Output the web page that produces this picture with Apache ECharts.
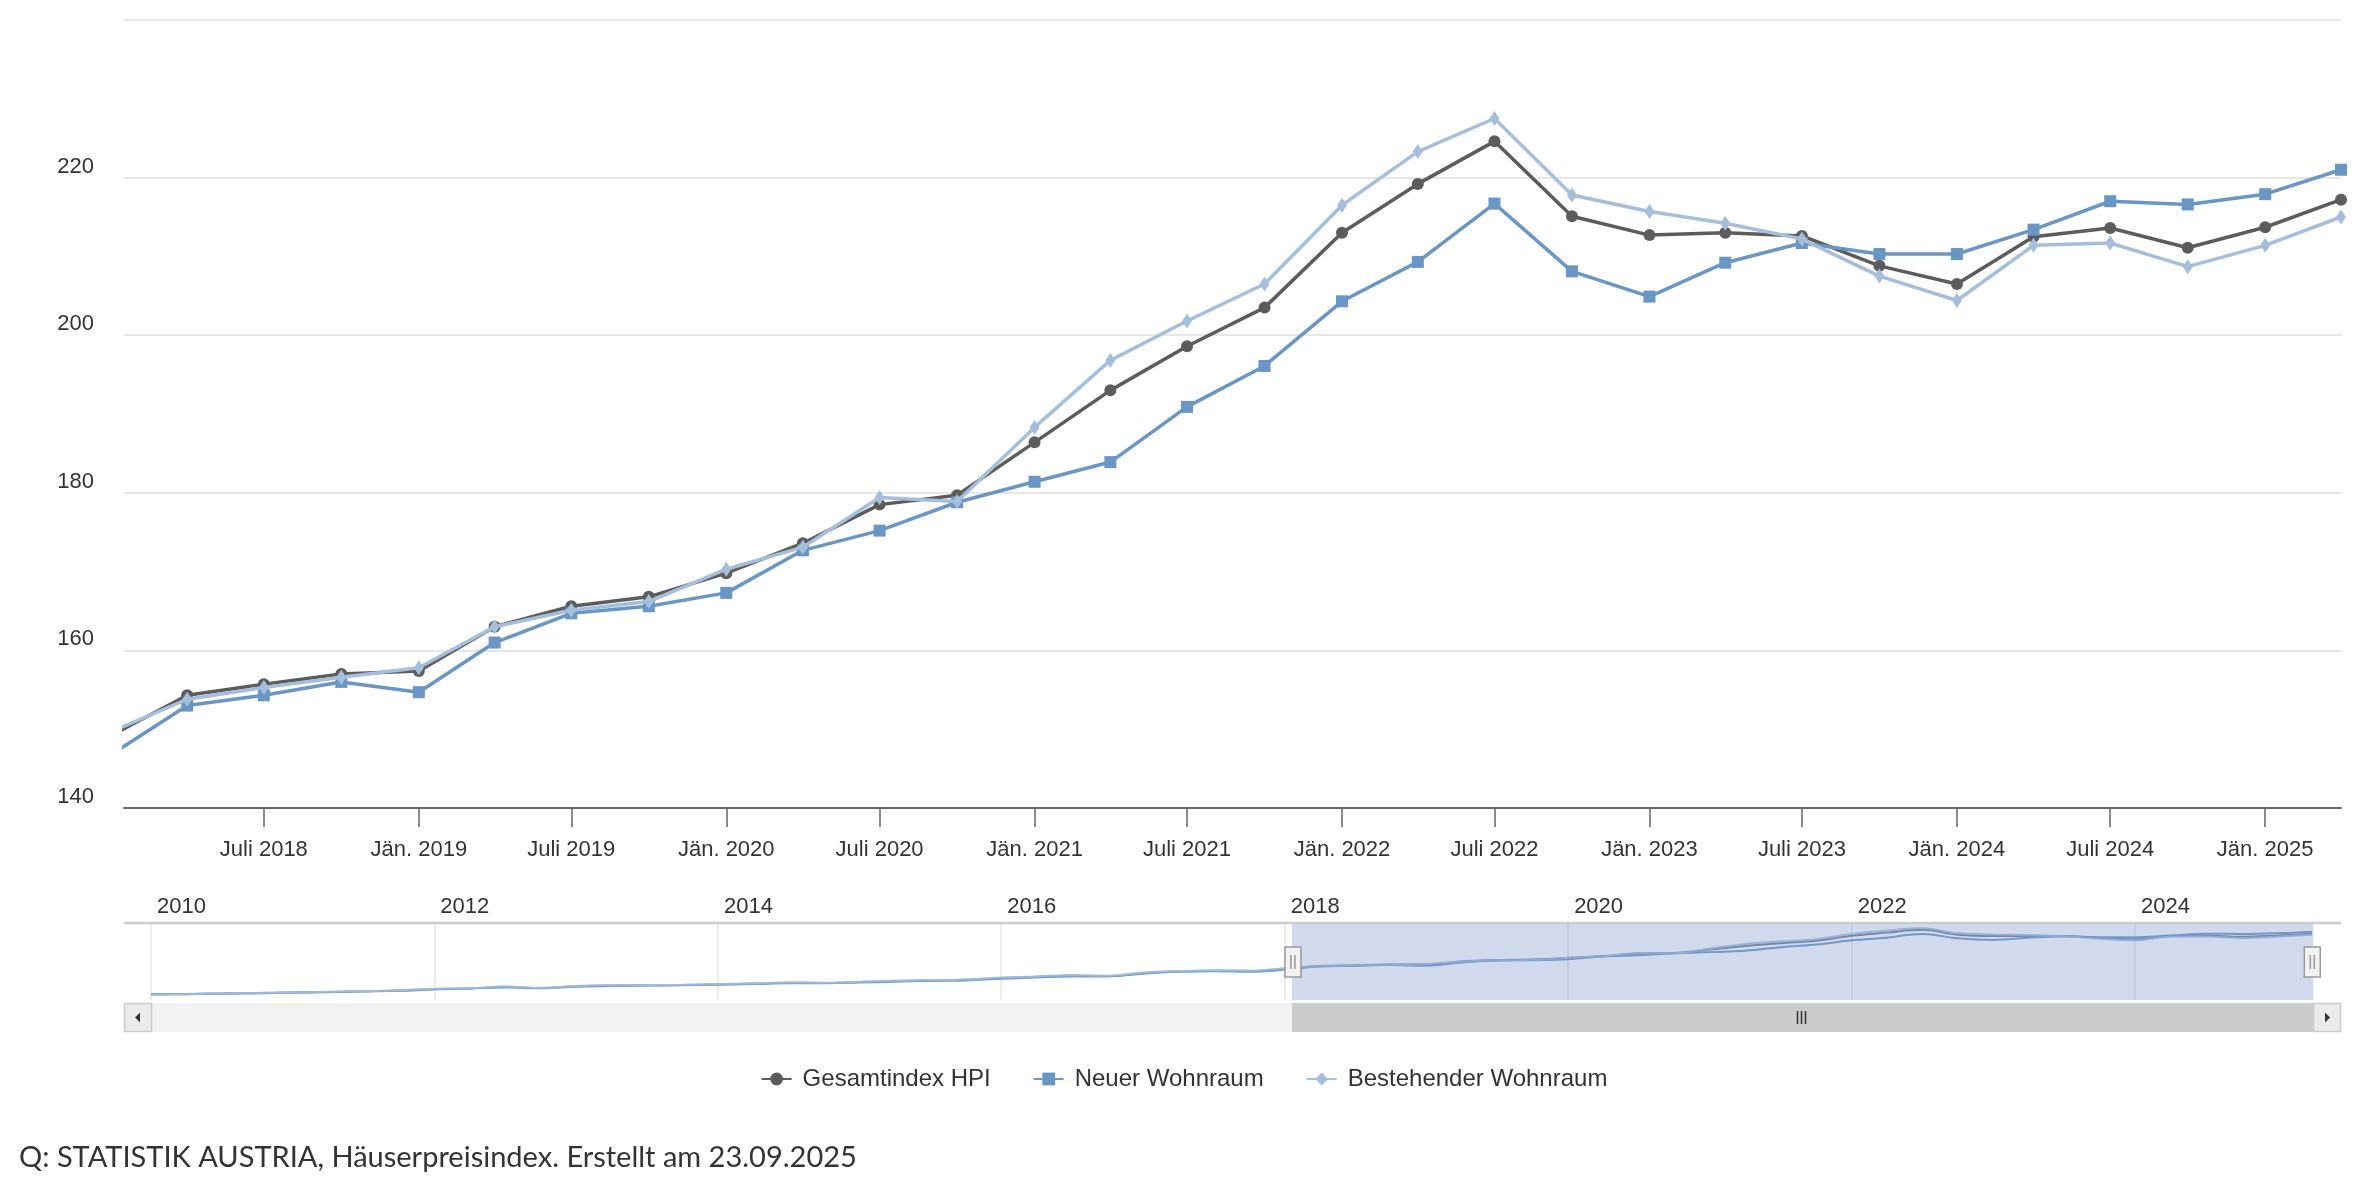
<!DOCTYPE html>
<html>
<head>
<meta charset="utf-8">
<script src="https://cdn.jsdelivr.net/npm/echarts@6/dist/echarts.min.js"></script>
<style>
html,body{margin:0;padding:0;background:#fff;}
#chart{width:2368px;height:1186px;}
</style>
</head>
<body>
<div id="chart"></div>
<script>
// ---- data (quarterly, 2010 Q1 .. 2025 Q2) ----
const firstYear = 2010;
const quarterCount = 62;
const quarters = [];
for (let i = 0; i < quarterCount; i++) {
  quarters.push(Date.UTC(firstYear + Math.floor(i / 4), (i % 4) * 3, 1));
}
const seriesNames = ['Gesamtindex HPI', 'Neuer Wohnraum', 'Bestehender Wohnraum'];
const gesamt = [
  98.6, 99.4, 100.6, 101.4, 102.5, 103.6, 105.0, 106.5,
  109.5, 110.6, 113.6, 111.4, 114.8, 116.3, 116.8, 117.2,
  118.6, 119.9, 121.7, 121.3, 123.2, 124.8, 126.4, 127.3,
  131.0, 133.4, 135.6, 134.9, 140.8, 143.9, 145.2, 144.6,
  149.2, 154.3, 155.7, 157.0, 157.4, 163.0, 165.6, 166.8,
  169.8, 173.6, 178.5, 179.7, 186.4, 193.0, 198.6, 203.5,
  213.0, 219.2, 224.6, 215.1, 212.7, 213.0, 212.6, 208.8,
  206.5, 212.5, 213.6, 211.1, 213.7, 217.2
];
const neuer = [
  99.0, 99.8, 100.3, 100.9, 102.0, 103.2, 104.6, 105.9,
  108.4, 110.2, 112.4, 110.8, 113.6, 115.4, 116.0, 116.5,
  117.8, 119.0, 120.6, 120.6, 122.0, 123.6, 125.0, 126.0,
  129.5, 131.8, 134.0, 133.9, 139.2, 142.8, 144.0, 143.2,
  146.8, 153.0, 154.3, 156.0, 154.7, 161.0, 164.7, 165.6,
  167.3, 172.7, 175.2, 178.8, 181.4, 183.9, 190.9, 196.1,
  204.3, 209.3, 216.7, 208.1, 204.9, 209.2, 211.7, 210.3,
  210.3, 213.4, 217.0, 216.6, 217.9, 221.0
];
const bestehend = [
  98.4, 99.3, 100.8, 101.6, 102.8, 103.9, 105.3, 106.9,
  110.0, 110.9, 114.1, 111.8, 115.3, 116.7, 117.2, 117.6,
  119.0, 120.3, 122.2, 121.7, 123.7, 125.3, 126.9, 127.8,
  131.6, 134.0, 136.2, 135.4, 141.5, 144.4, 145.8, 145.3,
  149.7, 153.8, 155.3, 156.6, 157.8, 163.0, 165.1, 166.2,
  170.3, 173.1, 179.4, 178.9, 188.3, 196.8, 201.8, 206.5,
  216.5, 223.3, 227.5, 217.8, 215.7, 214.2, 212.2, 207.5,
  204.4, 211.4, 211.7, 208.7, 211.4, 215.0
];
// main x-axis tick labels (half-yearly)
const mainTicks = [
  Date.UTC(2018,6,1), Date.UTC(2019,0,1), Date.UTC(2019,6,1), Date.UTC(2020,0,1),
  Date.UTC(2020,6,1), Date.UTC(2021,0,1), Date.UTC(2021,6,1), Date.UTC(2022,0,1),
  Date.UTC(2022,6,1), Date.UTC(2023,0,1), Date.UTC(2023,6,1), Date.UTC(2024,0,1),
  Date.UTC(2024,6,1), Date.UTC(2025,0,1)
];
const navTicks = [2010, 2012, 2014, 2016, 2018, 2020, 2022, 2024].map(y => Date.UTC(y, 0, 1));
const viewStart = Date.UTC(2018, 0, 16);
const viewEnd = Date.UTC(2025, 3, 1);
const colors = ['#5c5c5c', '#6996c4', '#a5bedc'];
const FONT = '"Liberation Sans", Arial, Helvetica, sans-serif';

function pairs(vals) { return vals.map((v, i) => [quarters[i], v]); }
function mainLabel(v) {
  const d = new Date(v);
  const m = d.getUTCMonth();
  if (m === 0) return 'Jän. ' + d.getUTCFullYear();
  if (m === 6) return 'Juli ' + d.getUTCFullYear();
  return '';
}

const chart = echarts.init(document.getElementById('chart'), null, {renderer: 'canvas'});
const symbols = ['circle', 'rect', 'diamond'];
const symbolSizes = [12, 12, [10, 15]];
const valueSets = [gesamt, neuer, bestehend];

const series = [];
valueSets.forEach((vals, k) => {
  series.push({
    name: seriesNames[k], type: 'line', xAxisIndex: 0, yAxisIndex: 0,
    data: pairs(vals), symbol: symbols[k], symbolSize: symbolSizes[k], showAllSymbol: true,
    lineStyle: {color: colors[k], width: 3.5}, itemStyle: {color: colors[k]},
    emphasis: {disabled: true}, clip: true, z: 3 + k
  });
});
valueSets.forEach((vals, k) => {
  series.push({
    name: 'nav' + k, type: 'line', xAxisIndex: 1, yAxisIndex: 1,
    data: pairs(vals), symbol: 'none', smooth: 0.4, silent: true,
    lineStyle: {color: k === 0 ? '#6a7a94' : colors[k], width: 2, opacity: 0.9},
    emphasis: {disabled: true}, z: 2
  });
});

const option = {
  animation: false,
  backgroundColor: '#ffffff',
  textStyle: {fontFamily: FONT},
  title: {
    text: 'Q: STATISTIK AUSTRIA, Häuserpreisindex. Erstellt am 23.09.2025',
    left: 14, top: 1138,
    textStyle: {fontFamily: 'Lato, "Open Sans", sans-serif', fontSize: 29, fontWeight: 'normal', color: '#333333'}
  },
  legend: {
    data: seriesNames, top: 1062, left: 'center', itemGap: 42, itemWidth: 30, itemHeight: 16,
    textStyle: {fontFamily: FONT, fontSize: 24, color: '#333333', padding: [0, 0, 0, 6]},
    selectedMode: false
  },
  grid: [
    {left: 124, right: 27, top: 20, height: 788},
    {left: 151, width: 2161, top: 924, height: 76}
  ],
  xAxis: [
    {
      type: 'value', gridIndex: 0, scale: true,
      min: quarters[0], max: quarters[quarterCount - 1],
      axisLine: {show: true, onZero: false, lineStyle: {color: '#666666', width: 2}},
      axisTick: {show: true, length: 19, lineStyle: {color: '#666666', width: 1.5}, customValues: mainTicks},
      axisLabel: {customValues: mainTicks, formatter: mainLabel, margin: 31, fontSize: 22, color: '#333333', fontFamily: FONT},
      splitLine: {show: false}
    },
    {
      type: 'value', gridIndex: 1, position: 'top', scale: true,
      min: quarters[0], max: quarters[quarterCount - 1],
      axisLine: {show: false, onZero: false},
      axisTick: {show: false, customValues: navTicks},
      axisLabel: {customValues: navTicks, formatter: v => String(new Date(v).getUTCFullYear()),
        align: 'left', margin: 6, padding: [0, 0, 0, 6], fontSize: 22, color: '#333333', fontFamily: FONT},
      splitLine: {show: true, lineStyle: {color: '#e6e6e6', width: 1.5}}
    }
  ],
  yAxis: [
    {
      type: 'value', gridIndex: 0, min: 140, max: 240, interval: 20,
      axisLine: {show: false}, axisTick: {show: false},
      axisLabel: {formatter: v => (v === 240 ? '' : String(v)), margin: 30, fontSize: 22, color: '#333333',
        verticalAlign: 'bottom', fontFamily: FONT},
      splitLine: {show: true, lineStyle: {color: '#e6e6e6', width: 2}}
    },
    {type: 'value', gridIndex: 1, min: 88, max: 236, show: false, splitLine: {show: false}}
  ],
  dataZoom: [
    {
      type: 'slider', xAxisIndex: 0, filterMode: 'none', startValue: viewStart, endValue: viewEnd,
      left: 151, width: 2161, top: 924, height: 76,
      backgroundColor: 'rgba(0,0,0,0)', borderColor: 'rgba(0,0,0,0)',
      fillerColor: 'rgba(102,133,194,0.3)', showDataShadow: false, showDetail: false,
      brushSelect: false, moveHandleSize: 0, moveHandleStyle: {opacity: 0},
      dataBackground: {lineStyle: {opacity: 0}, areaStyle: {opacity: 0}},
      selectedDataBackground: {lineStyle: {opacity: 0}, areaStyle: {opacity: 0}},
      handleIcon: 'path://M0,0 L8,0 L8,15 L0,15 Z M3,4 L3,11 M5,4 L5,11',
      handleSize: 30,
      handleStyle: {color: '#f2f2f2', borderColor: '#999999', borderWidth: 1.5},
      emphasis: {handleStyle: {color: '#f2f2f2', borderColor: '#999999'}},
      z: 4
    },
    {
      type: 'slider', xAxisIndex: 0, filterMode: 'none', startValue: viewStart, endValue: viewEnd,
      left: 151, width: 2162, top: 1003, height: 29,
      backgroundColor: '#f2f2f2', borderColor: 'rgba(0,0,0,0)', fillerColor: '#cccccc',
      showDataShadow: false, showDetail: false, brushSelect: false,
      moveHandleSize: 0, moveHandleStyle: {opacity: 0},
      dataBackground: {lineStyle: {opacity: 0}, areaStyle: {opacity: 0}},
      selectedDataBackground: {lineStyle: {opacity: 0}, areaStyle: {opacity: 0}},
      handleSize: 0, handleStyle: {opacity: 0},
      z: 4
    }
  ],
  series: series
};
chart.setOption(option);

// navigator / scrollbar chrome
const x0 = chart.convertToPixel({xAxisIndex: 1}, viewStart);
const x1 = chart.convertToPixel({xAxisIndex: 1}, viewEnd);
const gripX = Math.round((x0 + x1) / 2) + 0.5;
chart.setOption({
  graphic: [
    {type: 'line', shape: {x1: 124, y1: 923, x2: 2341, y2: 923}, style: {stroke: '#cccccc', lineWidth: 2.5}, z: 10},
    {type: 'rect', shape: {x: 124.5, y: 1003.5, width: 27, height: 28}, style: {fill: '#ebebeb', stroke: '#cccccc', lineWidth: 1.5}, z: 10},
    {type: 'polygon', shape: {points: [[135, 1017.5], [140, 1012.5], [140, 1022.5]]}, style: {fill: '#333333'}, z: 11},
    {type: 'rect', shape: {x: 2313.5, y: 1003.5, width: 27, height: 28}, style: {fill: '#ebebeb', stroke: '#cccccc', lineWidth: 1.5}, z: 10},
    {type: 'polygon', shape: {points: [[2330, 1017.5], [2325, 1012.5], [2325, 1022.5]]}, style: {fill: '#333333'}, z: 11},
    {type: 'line', shape: {x1: gripX - 4, y1: 1011, x2: gripX - 4, y2: 1024}, style: {stroke: '#333333', lineWidth: 1.5}, z: 20},
    {type: 'line', shape: {x1: gripX, y1: 1011, x2: gripX, y2: 1024}, style: {stroke: '#333333', lineWidth: 1.5}, z: 20},
    {type: 'line', shape: {x1: gripX + 4, y1: 1011, x2: gripX + 4, y2: 1024}, style: {stroke: '#333333', lineWidth: 1.5}, z: 20}
  ]
});
</script>
</body>
</html>
